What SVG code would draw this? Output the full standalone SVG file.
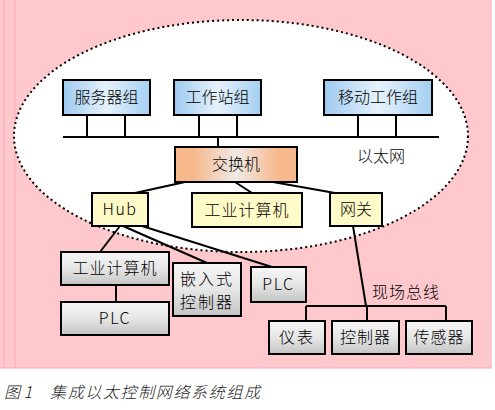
<svg xmlns="http://www.w3.org/2000/svg" width="495" height="410" viewBox="0 0 495 410">
<defs>
<linearGradient id="gBlue" x1="0" y1="0" x2="1" y2="0">
<stop offset="0" stop-color="#9ECAF0"/><stop offset="0.5" stop-color="#E6F2FC"/><stop offset="1" stop-color="#A4CFF2"/>
</linearGradient>
<linearGradient id="gOrange" x1="0" y1="0" x2="1" y2="0">
<stop offset="0" stop-color="#F7B88C"/><stop offset="0.15" stop-color="#F7B88C"/><stop offset="0.5" stop-color="#F0EAE6"/><stop offset="0.85" stop-color="#F7B88C"/><stop offset="1" stop-color="#F7B88C"/>
</linearGradient>
<linearGradient id="gGrey" x1="0" y1="0" x2="0" y2="1">
<stop offset="0" stop-color="#F6F6F6"/><stop offset="0.5" stop-color="#E6E6E6"/><stop offset="1" stop-color="#C4C4C4"/>
</linearGradient>
</defs>
<style>
.box{stroke:#000;stroke-width:2}
.blue{fill:url(#gBlue)}
.orange{fill:url(#gOrange)}
.yellow{fill:#FFFBC8}
.grey{fill:url(#gGrey)}
.t{font-family:"Noto Sans CJK SC","Liberation Sans",sans-serif;font-size:16px;font-weight:300;fill:#000;text-anchor:middle}
.l{font-family:"Noto Sans CJK SC","Liberation Sans",sans-serif;font-size:16px;font-weight:300;fill:#000;text-anchor:middle;letter-spacing:1.5px}
.c{font-family:"Noto Sans CJK SC","Liberation Sans",sans-serif;font-size:16px;font-weight:300;fill:#222;font-style:italic}
#connectors line{stroke:#000;stroke-width:2;fill:none}
</style>
<rect x="0" y="0" width="495" height="410" fill="#FFFFFF"/>
<rect x="0" y="0" width="492" height="368" fill="#FFC8CD"/>
<line x1="4" y1="0" x2="4" y2="368" stroke="#F6A8BE" stroke-width="1"/>
<line x1="15" y1="0" x2="15" y2="368" stroke="#F6A8BE" stroke-width="1"/>
<line x1="0" y1="368" x2="492" y2="368" stroke="#F6A8BE" stroke-width="1"/>
<ellipse cx="241" cy="136" rx="227" ry="116" fill="#FFFFFF" stroke="#000" stroke-width="2" stroke-dasharray="2,3"/>
<g id="connectors">
<line x1="87" y1="115" x2="87" y2="137"/>
<line x1="125" y1="115" x2="125" y2="137"/>
<line x1="199" y1="115" x2="199" y2="137"/>
<line x1="237" y1="115" x2="237" y2="137"/>
<line x1="358" y1="115" x2="358" y2="137"/>
<line x1="396" y1="115" x2="396" y2="137"/>
<line x1="63" y1="137" x2="439" y2="137"/>
<line x1="218" y1="137" x2="218" y2="147"/>
<line x1="185" y1="182" x2="135" y2="193"/>
<line x1="235" y1="182" x2="252" y2="193"/>
<line x1="273" y1="182" x2="335" y2="193"/>
<line x1="120" y1="226" x2="100" y2="252"/>
<line x1="123" y1="226" x2="207" y2="263"/>
<line x1="142" y1="226" x2="272" y2="267"/>
<line x1="116" y1="285" x2="116" y2="302"/>
<line x1="353" y1="226" x2="366" y2="306"/>
<line x1="306" y1="306" x2="446" y2="306"/>
<line x1="306" y1="306" x2="306" y2="321"/>
<line x1="367" y1="306" x2="367" y2="321"/>
<line x1="446" y1="306" x2="446" y2="321"/>
</g>
<g id="n-server"><rect class="box blue" x="63" y="80" width="87" height="35"/><text class="t" x="106.5" y="103">服务器组</text></g>
<g id="n-workstation"><rect class="box blue" x="174" y="80" width="87" height="35"/><text class="t" x="217.5" y="103">工作站组</text></g>
<g id="n-mobile"><rect class="box blue" x="324" y="80" width="108" height="35"/><text class="t" x="378" y="103">移动工作组</text></g>
<g id="n-ethernet-label"><text class="t" x="381" y="162">以太网</text></g>
<g id="n-switch"><rect class="box orange" x="175" y="147" width="122" height="35"/><text class="t" x="236" y="170">交换机</text></g>
<g id="n-hub"><rect class="box yellow" x="92" y="193" width="56" height="33"/><text class="l" x="120" y="215">Hub</text></g>
<g id="n-ipc1"><rect class="box yellow" x="192" y="193" width="110" height="34"/><text class="t" x="247" y="215.5" letter-spacing="1">工业计算机</text></g>
<g id="n-gateway"><rect class="box yellow" x="330" y="193" width="52" height="33"/><text class="t" x="356" y="215">网关</text></g>
<g id="n-ipc2"><rect class="box grey" x="61" y="252" width="108" height="33"/><text class="t" x="115" y="274" letter-spacing="1">工业计算机</text></g>
<g id="n-plc1"><rect class="box grey" x="61" y="302" width="108" height="33"/><text class="l" x="115" y="324">PLC</text></g>
<g id="n-embedded"><rect class="box grey" x="173" y="263" width="68" height="53"/><text class="t" x="207" y="285" font-size="15" letter-spacing="2">嵌入式</text><text class="t" x="207" y="308" font-size="15" letter-spacing="2">控制器</text></g>
<g id="n-plc2"><rect class="box grey" x="251" y="267" width="55" height="35"/><text class="l" x="278.5" y="290">PLC</text></g>
<g id="n-fieldbus-label"><text class="t" x="406" y="298" letter-spacing="1">现场总线</text></g>
<g id="n-meter"><rect class="box grey" x="269" y="321" width="56" height="33"/><text class="t" x="297" y="343" letter-spacing="2">仪表</text></g>
<g id="n-controller"><rect class="box grey" x="332" y="321" width="67" height="33"/><text class="t" x="365.5" y="343" letter-spacing="1">控制器</text></g>
<g id="n-sensor"><rect class="box grey" x="406" y="321" width="66" height="33"/><text class="t" x="439" y="343" letter-spacing="1">传感器</text></g>
<g id="caption"><text class="c" x="4" y="398">图 1</text><text class="c" x="50" y="398" textLength="210" lengthAdjust="spacing">集成以太控制网络系统组成</text></g>
</svg>
